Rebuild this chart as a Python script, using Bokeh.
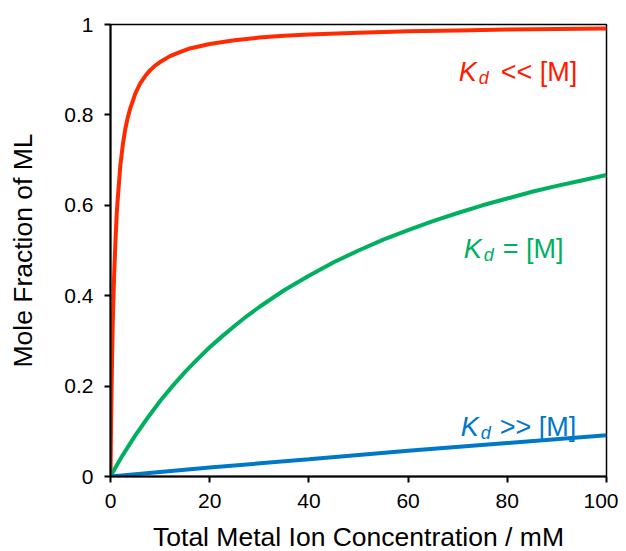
from bokeh.plotting import figure
from bokeh.models import Range1d, Label, FixedTicker
from bokeh.embed import file_html
from bokeh.resources import INLINE

# Data
x_red = [0, 0.1, 0.2, 0.35, 0.5, 0.75, 1, 1.25, 1.5, 2, 2.5, 3, 3.5, 4, 5, 6, 7, 8, 9, 10,
         12, 14, 16, 18, 20, 25, 30, 35, 40, 50, 60, 70, 80, 90, 100]
y_red = [0, 0.1, 0.18, 0.28, 0.36, 0.45, 0.52, 0.58, 0.62, 0.69, 0.735, 0.77, 0.795, 0.815, 0.847, 0.87, 0.886, 0.899, 0.909, 0.917,
         0.93, 0.939, 0.947, 0.952, 0.957, 0.965, 0.971, 0.975, 0.978, 0.982, 0.985, 0.987, 0.989, 0.99, 0.991]

x_green = [0, 1, 2.5, 5, 7.5, 10, 12.5, 15, 17.5, 20, 22.5, 25, 27.5, 30, 35, 40, 45, 50, 55, 60, 65, 70, 75, 80, 85, 90, 95, 100]
y_green = [0, 0.02, 0.048, 0.091, 0.13, 0.167, 0.2, 0.231, 0.259, 0.286, 0.31, 0.333, 0.355, 0.375, 0.412, 0.444, 0.474, 0.5, 0.524,
           0.545, 0.565, 0.583, 0.6, 0.615, 0.63, 0.643, 0.655, 0.667]

x_blue = [0, 20, 40, 60, 80, 100]
y_blue = [0, 0.02, 0.038, 0.057, 0.074, 0.091]

x_ticks = [0, 20, 40, 60, 80, 100]
y_ticks = [0, 0.2, 0.4, 0.6, 0.8, 1]
y_tick_labels = ["0", "0.2", "0.4", "0.6", "0.8", "1"]

RED_LINE = "#ff2a00"
RED_TEXT = "#ff1a00"
GREEN = "#00b060"
BLUE = "#0078c8"
FONT = "Liberation Sans"

p = figure(frame_width=496, frame_height=452, output_backend="svg", toolbar_location=None,
           x_range=Range1d(0, 100), y_range=Range1d(0, 1),
           min_border_left=110, min_border_right=12, min_border_top=24, min_border_bottom=66)
p.background_fill_color = "white"
p.border_fill_color = "white"
p.outline_line_color = "black"
p.outline_line_width = 1.5
p.xgrid.visible = False
p.ygrid.visible = False

p.line(x_red, y_red, line_color=RED_LINE, line_width=4)
p.line(x_green, y_green, line_color=GREEN, line_width=4)
p.line(x_blue, y_blue, line_color=BLUE, line_width=4)

for ax in (p.xaxis[0], p.yaxis[0]):
    ax.axis_line_width = 2
    ax.axis_line_color = "black"
    ax.major_tick_line_width = 2
    ax.major_tick_line_color = "black"
    ax.major_tick_in = 0
    ax.major_tick_out = 6
    ax.minor_tick_line_color = None
    ax.major_label_text_font = FONT
    ax.major_label_text_font_size = "21px"
    ax.major_label_text_color = "black"
    ax.axis_label_text_font = FONT
    ax.axis_label_text_font_size = "26.5px"
    ax.axis_label_text_font_style = "normal"
    ax.axis_label_text_color = "black"

p.xaxis[0].ticker = FixedTicker(ticks=x_ticks)
p.yaxis[0].ticker = FixedTicker(ticks=y_ticks)
p.xaxis[0].major_label_overrides = {t: str(t) for t in x_ticks}
p.yaxis[0].major_label_overrides = dict(zip(y_ticks, y_tick_labels))
p.xaxis[0].major_label_standoff = 11
p.yaxis[0].major_label_standoff = 11
p.xaxis[0].axis_label = "Total Metal Ion Concentration / mM"
p.yaxis[0].axis_label = "Mole Fraction of ML"
p.xaxis[0].axis_label_standoff = 11
p.yaxis[0].axis_label_standoff = 23

labels = [
    (70.2, 0.895, RED_TEXT, "<< [M]", 42),
    (71.2, 0.503, GREEN, "= [M]", 39),
    (70.6, 0.1085, BLUE, ">> [M]", 39),
]
for lx, ly, col, rest, off in labels:
    p.add_layout(Label(x=lx, y=ly, text="K", text_color=col, text_font=FONT,
                       text_font_size="27px", text_font_style="italic", text_baseline="alphabetic"))
    p.add_layout(Label(x=lx, y=ly, x_offset=20, y_offset=-6, text="d", text_color=col, text_font=FONT,
                       text_font_size="18px", text_font_style="italic", text_baseline="alphabetic"))
    p.add_layout(Label(x=lx, y=ly, x_offset=off, text=rest, text_color=col, text_font=FONT,
                       text_font_size="27px", text_baseline="alphabetic"))

open("out.html", "w").write(file_html(p, INLINE))
